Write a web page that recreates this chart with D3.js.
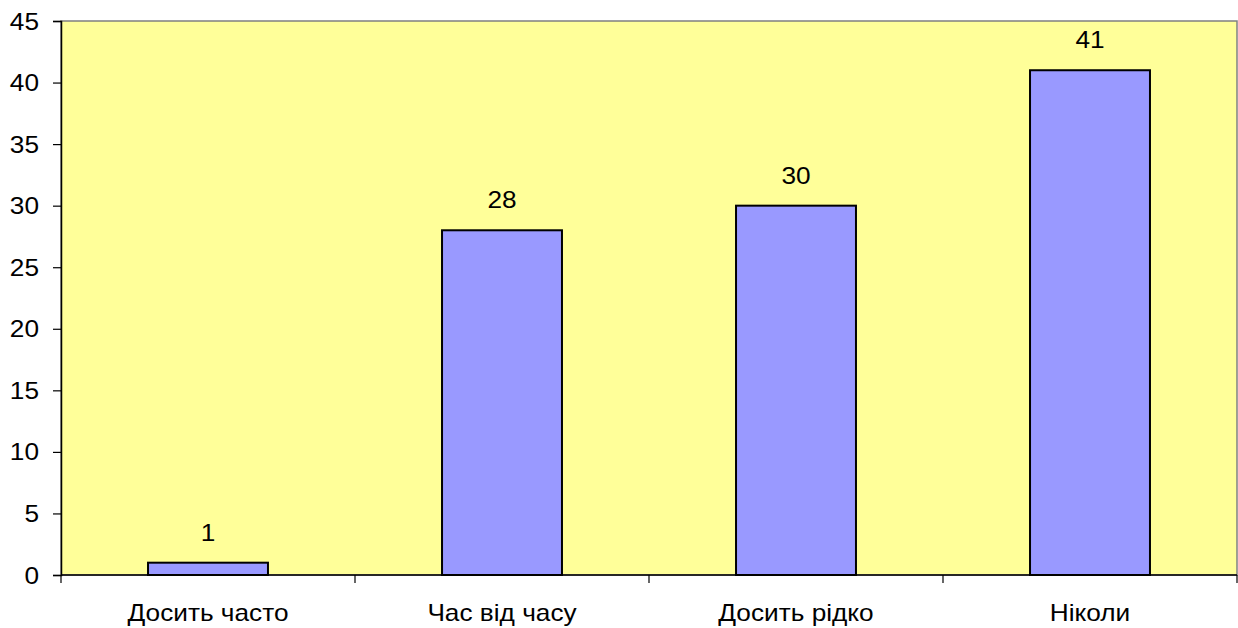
<!DOCTYPE html>
<html><head><meta charset="utf-8">
<script src="https://cdn.jsdelivr.net/npm/d3@7"></script>
<style>body{margin:0;background:#fff}svg{display:block;font-family:"Liberation Sans",Arial,sans-serif}</style>
</head><body><svg id="c" width="1238" height="628"></svg>
<script>
const categories = ["Досить часто", "Час від часу", "Досить рідко", "Ніколи"];
const values = [1, 28, 30, 41];
const yTicks = [0, 5, 10, 15, 20, 25, 30, 35, 40, 45];

const svg = d3.select("#c");
const m = {l: 61, r: 1237, t: 21, b: 575};
const FS = 23, SX = 1.14;
const x = d3.scaleBand().domain(categories).range([m.l, m.r]).padding(0);
const y = d3.scaleLinear().domain([0, 45]).range([m.b, m.t]);

function stretch(sel) {
  sel.each(function () {
    const t = d3.select(this);
    const tx = +t.attr("x") || 0, ty = +t.attr("y") || 0;
    t.attr("x", 0).attr("y", 0)
     .attr("transform", `translate(${tx},${ty}) scale(${SX},1)`);
  });
}

svg.append("rect").attr("x", m.l).attr("y", m.t).attr("width", m.r - m.l).attr("height", m.b - m.t)
  .attr("fill", "#FFFF99").attr("stroke", "#808080").attr("stroke-width", 1.5);

const bw = x.bandwidth() * 0.408;
svg.selectAll("rect.bar").data(values).join("rect").attr("class", "bar")
  .attr("x", (d, i) => x(categories[i]) + x.bandwidth() / 2 - bw / 2)
  .attr("y", d => y(d)).attr("width", bw).attr("height", d => y(0) - y(d))
  .attr("fill", "#9999FF").attr("stroke", "#000").attr("stroke-width", 2);

svg.selectAll("text.val").data(values).join("text").attr("class", "val")
  .attr("x", (d, i) => x(categories[i]) + x.bandwidth() / 2)
  .attr("y", d => y(d) - 22).attr("text-anchor", "middle")
  .attr("font-size", FS).attr("fill", "#000").text(d => d)
  .call(stretch);

// y axis
const ya = svg.append("g").attr("transform", `translate(${m.l},0)`)
  .call(d3.axisLeft(y).tickValues(yTicks).tickSize(8).tickPadding(0));
ya.select(".domain").attr("stroke", "#000").attr("stroke-width", 1.5);
ya.selectAll(".tick line").attr("stroke", "#000").attr("stroke-width", 1.2);
ya.selectAll("text").attr("font-size", FS).attr("font-family", "Liberation Sans, Arial, sans-serif")
  .attr("fill", "#000").attr("dy", null).attr("x", -22).attr("y", 8)
  .call(stretch);

// x axis
const xa = svg.append("g").attr("transform", `translate(0,${m.b})`)
  .call(d3.axisBottom(x).tickSize(0).tickPadding(0));
xa.select(".domain").remove();
xa.selectAll("text").attr("font-size", FS).attr("font-family", "Liberation Sans, Arial, sans-serif")
  .attr("fill", "#000").attr("dy", null).attr("y", 46)
  .call(stretch);
svg.append("line").attr("x1", m.l).attr("x2", m.r).attr("y1", m.b).attr("y2", m.b).attr("stroke", "#000").attr("stroke-width", 1.5);
const bounds = d3.range(categories.length + 1).map(i => m.l + i * x.bandwidth());
svg.selectAll("line.xt").data(bounds).join("line").attr("class", "xt")
  .attr("x1", d => d).attr("x2", d => d).attr("y1", m.b).attr("y2", m.b + 8)
  .attr("stroke", "#000").attr("stroke-width", 1.2);
</script></body></html>
